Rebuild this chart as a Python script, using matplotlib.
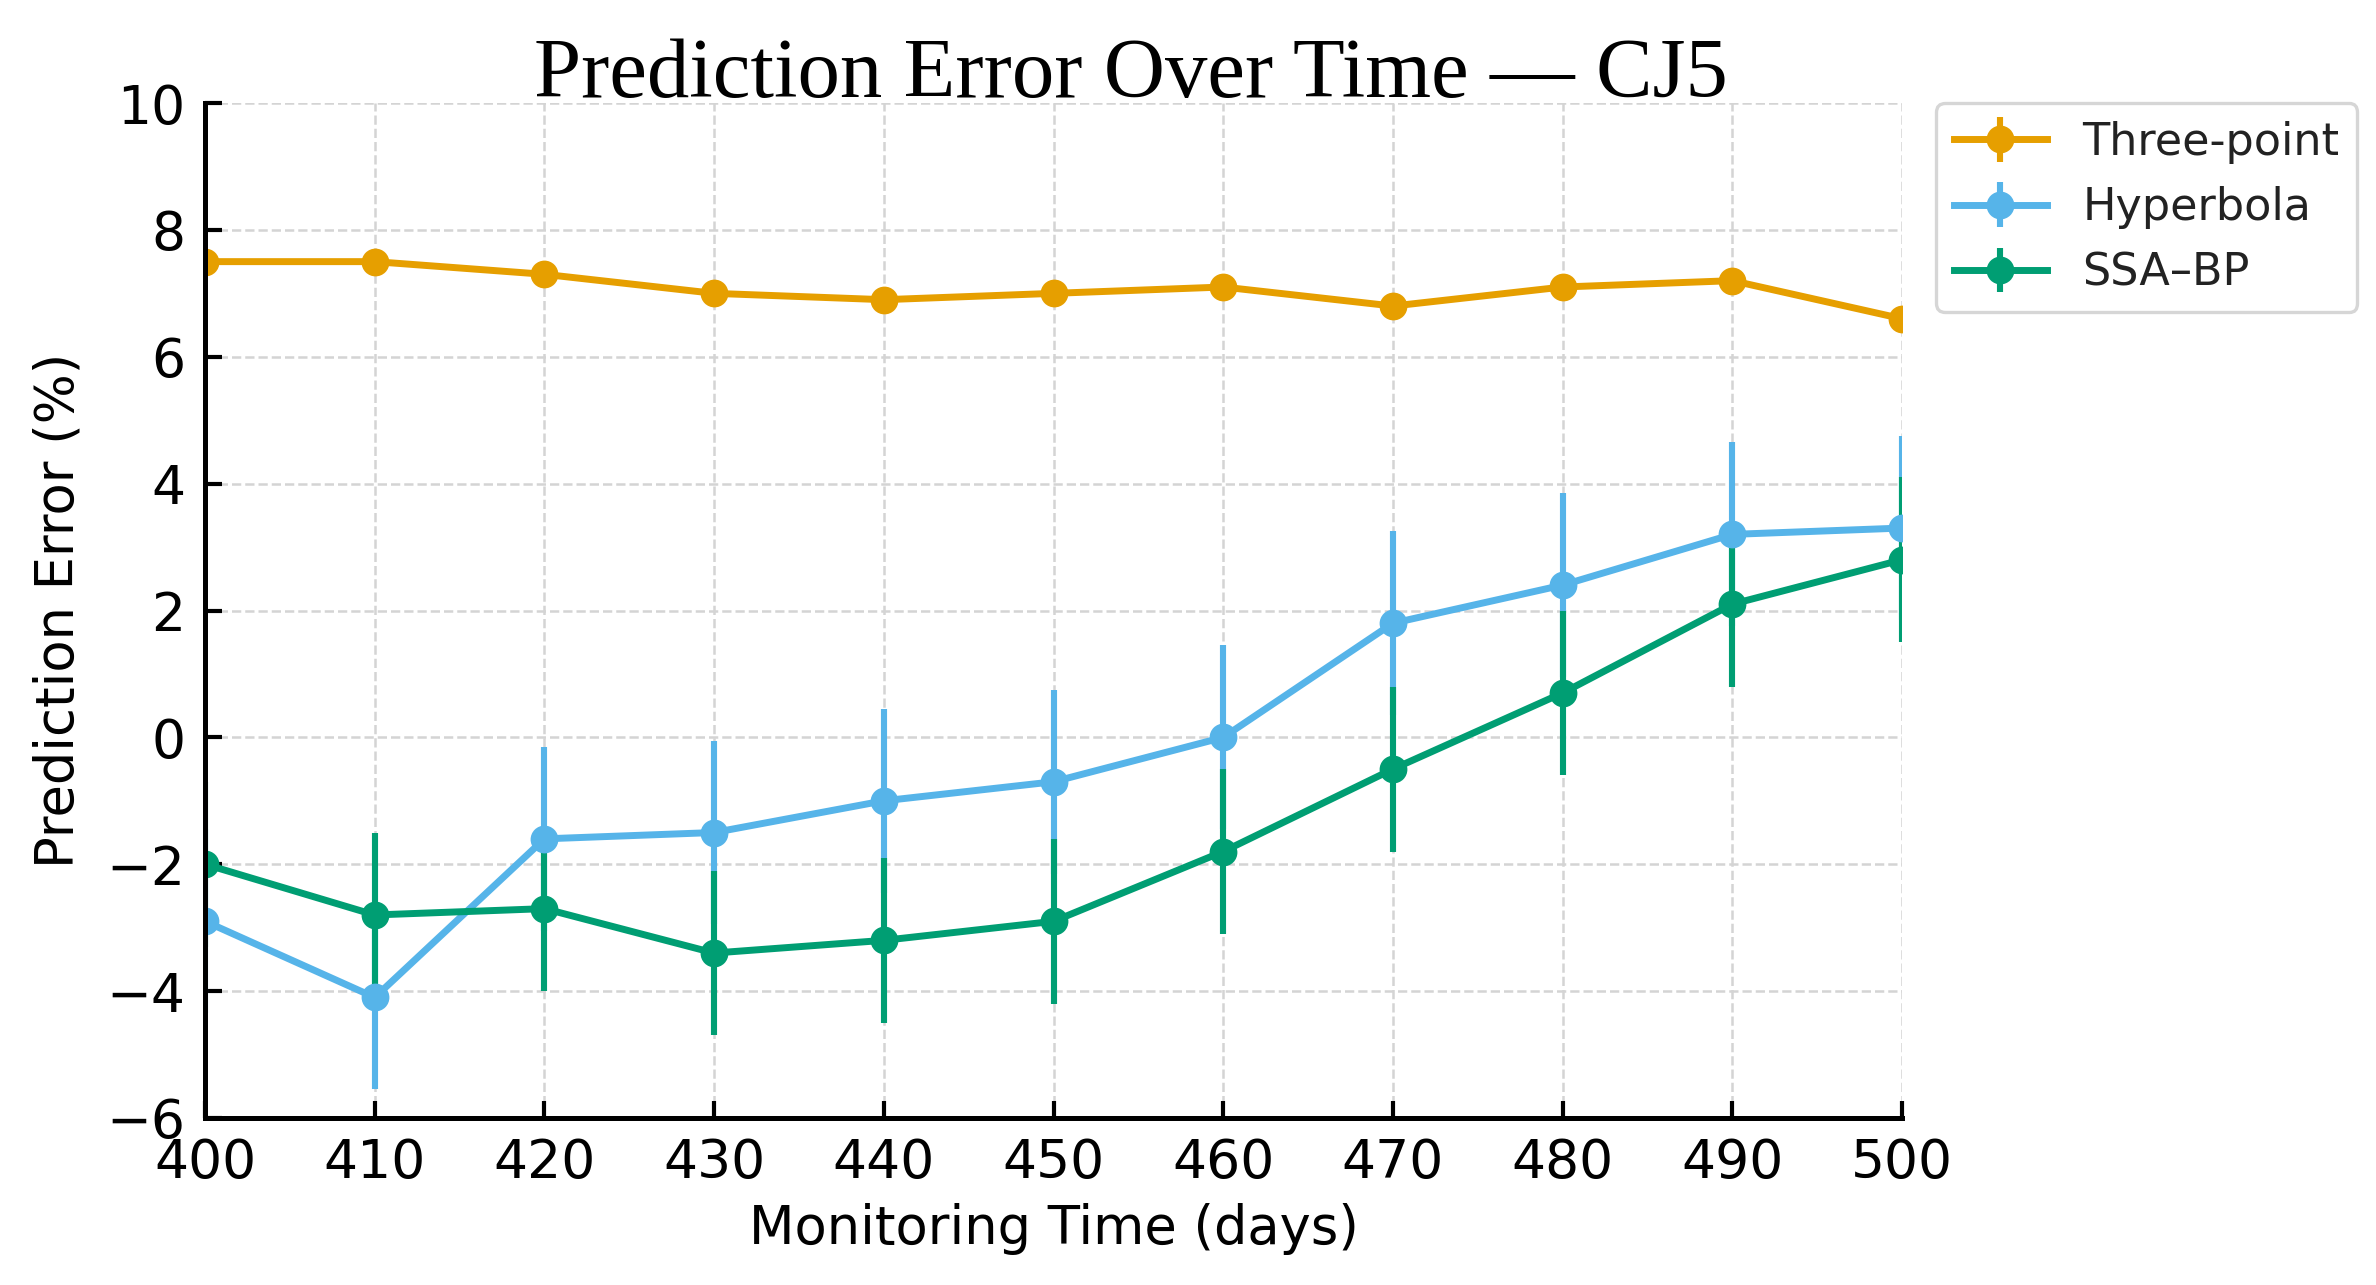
import matplotlib
matplotlib.use("Agg")
import matplotlib.pyplot as plt

days = [400, 410, 420, 430, 440, 450, 460, 470, 480, 490, 500]
three_point = [7.5, 7.5, 7.3, 7.0, 6.9, 7.0, 7.1, 6.8, 7.1, 7.2, 6.6]
three_point_err = [0.15] * 11
hyperbola = [-2.9, -4.1, -1.6, -1.5, -1.0, -0.7, 0.0, 1.8, 2.4, 3.2, 3.3]
hyperbola_err = [1.45] * 11
ssa_bp = [-2.0, -2.8, -2.7, -3.4, -3.2, -2.9, -1.8, -0.5, 0.7, 2.1, 2.8]
ssa_bp_err = [1.3] * 11

series_names = ["Three-point", "Hyperbola", "SSA\u2013BP"]
colors = ["#E69F00", "#56B4E9", "#009E73"]

fig = plt.figure(figsize=(11.88, 6.425), dpi=200)
ax = fig.add_axes([0.0863, 0.1300, 0.7142, 0.7898])

for y, e, name, c in zip([three_point, hyperbola, ssa_bp],
                         [three_point_err, hyperbola_err, ssa_bp_err],
                         series_names, colors):
    ax.errorbar(days, y, yerr=e, fmt='-o', color=c, lw=2.5, ms=9,
                elinewidth=2.2, capsize=0, label=name)

ax.set_xlim(400, 500)
ax.set_ylim(-6, 10)
ax.set_xticks(days)
ax.set_yticks(range(-6, 11, 2))
ax.grid(True, linestyle='--', color='#d4d4d4', linewidth=0.9)
ax.set_axisbelow(True)
for s in ['top', 'right']:
    ax.spines[s].set_visible(False)
for s in ['left', 'bottom']:
    ax.spines[s].set_linewidth(1.8)
ax.tick_params(direction='in', length=6, width=1.5, pad=7, labelsize=19.3)

ax.set_xlabel("Monitoring Time (days)", fontsize=19, labelpad=5)
ax.set_ylabel("Prediction Error (%)", fontsize=19, labelpad=8)

fig.text(0.476, 0.9245, "Prediction Error Over Time \u2014 CJ5",
         family="Liberation Serif", fontsize=30.5, ha='center', va='baseline')

leg = ax.legend(loc='upper left', bbox_to_anchor=(1.02, 1.0), borderaxespad=0,
                fontsize=16, labelspacing=0.5, handlelength=2.1)
leg.get_frame().set_edgecolor('#cccccc')
leg.get_frame().set_linewidth(1.2)
for t in leg.get_texts():
    t.set_color('#222222')

fig.savefig("out.png", dpi=200)
